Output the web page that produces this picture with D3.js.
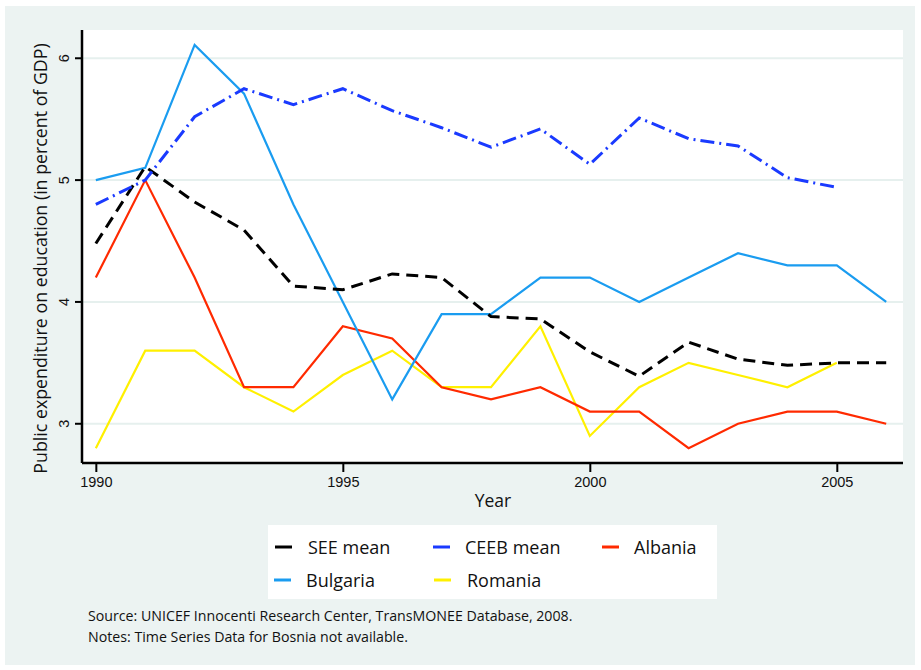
<!DOCTYPE html>
<html>
<head>
<meta charset="utf-8">
<script src="https://cdn.jsdelivr.net/npm/d3@7"></script>
<style>
  body { margin: 0; background: #fff; }
  svg { display: block; font-family: "Open Sans", "Noto Sans", sans-serif; }
</style>
</head>
<body>
<div id="chart"></div>
<script>
  // data
  var years = [1990, 1991, 1992, 1993, 1994, 1995, 1996, 1997, 1998, 1999, 2000, 2001, 2002, 2003, 2004, 2005, 2006];
  var seeMean  = [4.48, 5.11, 4.82, 4.59, 4.13, 4.10, 4.23, 4.20, 3.88, 3.86, 3.59, 3.39, 3.67, 3.53, 3.48, 3.50, 3.50];
  var ceebMean = [4.80, 5.00, 5.52, 5.75, 5.62, 5.75, 5.57, 5.43, 5.27, 5.42, 5.13, 5.51, 5.34, 5.28, 5.02, 4.94];
  var albania  = [4.2, 5.0, 4.2, 3.3, 3.3, 3.8, 3.7, 3.3, 3.2, 3.3, 3.1, 3.1, 2.8, 3.0, 3.1, 3.1, 3.0];
  var bulgaria = [5.0, 5.1, 6.11, 5.71, 4.8, 4.0, 3.2, 3.9, 3.9, 4.2, 4.2, 4.0, 4.2, 4.4, 4.3, 4.3, 4.0];
  var romania  = [2.8, 3.6, 3.6, 3.3, 3.1, 3.4, 3.6, 3.3, 3.3, 3.8, 2.9, 3.3, 3.5, 3.4, 3.3, 3.5];
  var xTicks = [1990, 1995, 2000, 2005];
  var yTicks = [3, 4, 5, 6];
  var seriesNames = ["SEE mean", "CEEB mean", "Albania", "Bulgaria", "Romania"];

  var series = [
    { name: seriesNames[0], values: seeMean,  color: "#000000", width: 3,   dash: "12,7" },
    { name: seriesNames[1], values: ceebMean, color: "#1a3aff", width: 3,   dash: "14,5,2,5" },
    { name: seriesNames[2], values: albania,  color: "#ff2a00", width: 2.2, dash: null },
    { name: seriesNames[3], values: bulgaria, color: "#1a9cf0", width: 2.2, dash: null },
    { name: seriesNames[4], values: romania,  color: "#fff000", width: 2.2, dash: null }
  ];

  var W = 921, H = 670;
  var svg = d3.select('#chart').append('svg')
      .attr('width', W)
      .attr('height', H);

  // outer panel
  svg.append('rect')
    .attr('x', 5).attr('y', 6)
    .attr('width', 910).attr('height', 659)
    .style('fill', '#ecf3f2');

  var plot = { left: 82, right: 903, top: 30, bottom: 463 };

  svg.append('rect')
    .attr('x', plot.left).attr('y', plot.top)
    .attr('width', plot.right - plot.left)
    .attr('height', plot.bottom - plot.top)
    .style('fill', '#fff');

  var x = d3.scaleLinear()
      .domain([1989.72, 2006.34])
      .range([plot.left, plot.right]);
  var y = d3.scaleLinear()
      .domain([2.678, 6.232])
      .range([plot.bottom, plot.top]);

  // grid lines
  svg.append('g')
    .selectAll('line')
    .data(yTicks)
    .enter().append('line')
      .attr('x1', plot.left).attr('x2', plot.right)
      .attr('y1', function(d){ return y(d); })
      .attr('y2', function(d){ return y(d); })
      .style('stroke', '#e6f0ee')
      .style('stroke-width', 2);

  // series lines
  var line = d3.line()
      .x(function(d, i){ return x(years[i]); })
      .y(function(d){ return y(d); });

  var order = [4, 2, 3, 0, 1];
  order.forEach(function(k) {
    var s = series[k];
    svg.append('path')
      .datum(s.values)
      .attr('d', line)
      .style('fill', 'none')
      .style('stroke', s.color)
      .style('stroke-width', s.width)
      .style('stroke-dasharray', s.dash);
  });

  // axes
  var yAxis = svg.append('g')
      .attr('transform', 'translate(' + plot.left + ',0)')
      .call(d3.axisLeft(y).tickValues(yTicks).tickSize(7).tickPadding(0).tickFormat(d3.format('d')));
  yAxis.select('.domain').attr('d', 'M0,' + plot.top + 'V' + plot.bottom);
  yAxis.selectAll('text')
      .attr('transform', function(d){ return 'translate(-13,' + y(d) + ') rotate(-90)'; })
      .attr('x', 0).attr('y', 0).attr('dy', 0)
      .style('text-anchor', 'middle')
      .style('font-size', '14.5px')
      .style('fill', '#111');
  yAxis.selectAll('.tick').attr('transform', null);
  yAxis.selectAll('.tick line')
      .attr('y1', function(d){ return y(d); })
      .attr('y2', function(d){ return y(d); });

  var xAxis = svg.append('g')
      .attr('transform', 'translate(0,' + plot.bottom + ')')
      .call(d3.axisBottom(x).tickValues(xTicks).tickSize(9).tickPadding(5).tickFormat(d3.format('d')));
  xAxis.select('.domain').attr('d', 'M' + plot.left + ',0H' + plot.right);
  xAxis.selectAll('text')
      .style('font-size', '14.5px')
      .style('fill', '#111');

  svg.selectAll('.domain').style('stroke', '#000').style('stroke-width', 2.5);
  svg.selectAll('.tick line').style('stroke', '#000').style('stroke-width', 2);

  // axis titles
  svg.append('text')
    .attr('transform', 'translate(47,' + ((plot.top + plot.bottom) / 2 + 12) + ') rotate(-90)')
    .style('text-anchor', 'middle')
    .style('font-size', '17.8px')
    .style('fill', '#111')
    .text('Public expenditure on education (in percent of GDP)');

  svg.append('text')
    .attr('x', 493).attr('y', 507)
    .style('text-anchor', 'middle')
    .style('font-size', '17.5px')
    .style('fill', '#111')
    .text('Year');

  // legend
  var legend = svg.append('g');
  legend.append('rect')
    .attr('x', 268).attr('y', 525)
    .attr('width', 449).attr('height', 74)
    .style('fill', '#fff');

  var legendPos = [
    { sx: 275, tx: 308, ty: 554 },
    { sx: 433, tx: 465, ty: 554 },
    { sx: 602, tx: 634, ty: 554 },
    { sx: 274, tx: 306, ty: 587 },
    { sx: 434, tx: 467, ty: 587 }
  ];

  var item = legend.selectAll('.item')
      .data(series)
      .enter().append('g')
      .attr('class', 'item');
  item.append('line')
    .attr('x1', function(d, i){ return legendPos[i].sx; })
    .attr('x2', function(d, i){ return legendPos[i].sx + 17; })
    .attr('y1', function(d, i){ return legendPos[i].ty - 7; })
    .attr('y2', function(d, i){ return legendPos[i].ty - 7; })
    .style('stroke', function(d){ return d.color; })
    .style('stroke-width', 3);
  item.append('text')
    .attr('x', function(d, i){ return legendPos[i].tx; })
    .attr('y', function(d, i){ return legendPos[i].ty; })
    .style('font-size', '18px')
    .style('fill', '#111')
    .text(function(d){ return d.name; });

  // notes
  svg.append('text')
    .attr('x', 88).attr('y', 621)
    .style('font-size', '14.2px')
    .style('fill', '#111')
    .text('Source: UNICEF Innocenti Research Center, TransMONEE Database, 2008.');
  svg.append('text')
    .attr('x', 88).attr('y', 642)
    .style('font-size', '14.2px')
    .style('fill', '#111')
    .text('Notes: Time Series Data for Bosnia not available.');
</script>
</body>
</html>
